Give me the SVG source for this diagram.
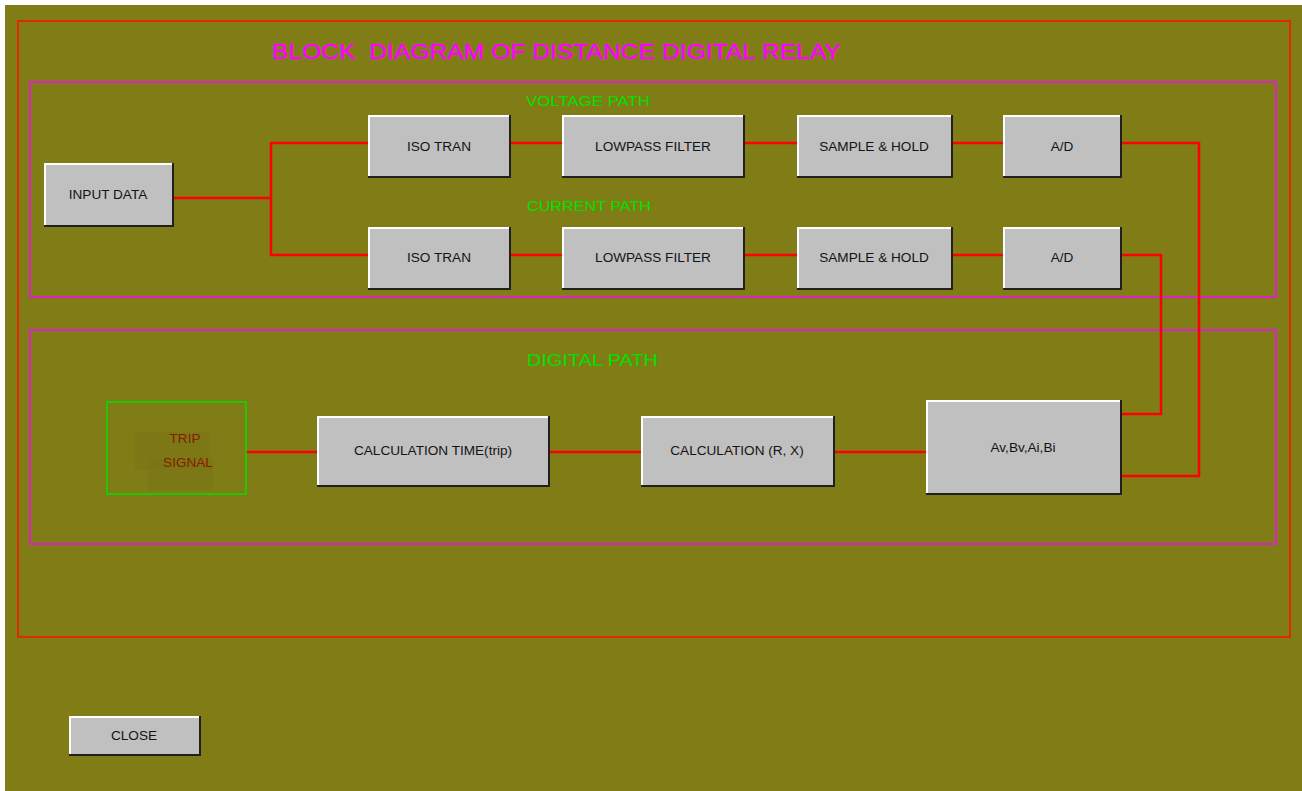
<svg xmlns="http://www.w3.org/2000/svg" width="1302" height="791" viewBox="0 0 1302 791">
<style>
.bg{fill:#807d16}
.frame{fill:none;stroke:#e02a00;stroke-width:2}
.panel{fill:none;stroke:#e020c8;stroke-width:2}
.btn{fill:#c0c0c0}
.hi{fill:none;stroke:#ffffff;stroke-width:2}
.sh{fill:none;stroke:#202020;stroke-width:2}
.lbl{font-family:"Liberation Sans",Arial,sans-serif;font-size:13.6px;fill:#141414;text-anchor:middle}
.green{font-family:"Liberation Sans",Arial,sans-serif;fill:#00e000}
.wire{fill:none;stroke:#ff0000;stroke-width:2.5}
</style>
<rect x="0" y="0" width="1302" height="791" fill="#ffffff"/>
<rect class="bg" x="5" y="5" width="1297" height="786"/>
<rect class="frame" x="18" y="21" width="1272" height="616"/>
<rect class="panel" x="30" y="82" width="1246" height="215"/>
<rect class="panel" x="30" y="330" width="1246" height="214"/>
<text x="272" y="59" font-family="Liberation Sans,Arial,sans-serif" font-size="22" fill="#ff00ff" stroke="#ff00ff" stroke-width="0.4" textLength="569" lengthAdjust="spacingAndGlyphs" xml:space="preserve">BLOCK  DIAGRAM OF DISTANCE DIGITAL RELAY</text>
<text class="green" x="526" y="106" font-size="15" textLength="124" lengthAdjust="spacingAndGlyphs">VOLTAGE PATH</text>
<text class="green" x="527" y="211" font-size="15" textLength="124" lengthAdjust="spacingAndGlyphs">CURRENT PATH</text>
<text class="green" x="527" y="366" font-size="17" textLength="131" lengthAdjust="spacingAndGlyphs">DIGITAL PATH</text>
<g id="connectors">
<polyline class="wire" points="173,198 271,198"/>
<polyline class="wire" points="368,143 271,143 271,255 368,255"/>
<line class="wire" x1="510" y1="143" x2="562" y2="143"/>
<line class="wire" x1="744" y1="143" x2="797" y2="143"/>
<line class="wire" x1="952" y1="143" x2="1003" y2="143"/>
<line class="wire" x1="510" y1="255" x2="562" y2="255"/>
<line class="wire" x1="744" y1="255" x2="797" y2="255"/>
<line class="wire" x1="952" y1="255" x2="1003" y2="255"/>
<polyline class="wire" points="1121,143 1199,143 1199,476 1121,476"/>
<polyline class="wire" points="1121,255 1161,255 1161,414 1121,414"/>
<line class="wire" x1="834" y1="452" x2="926" y2="452"/>
<line class="wire" x1="549" y1="452" x2="641" y2="452"/>
<line class="wire" x1="246" y1="452" x2="317" y2="452"/>
</g>
<g id="input">
<rect class="btn" x="44" y="163" width="129" height="63"/>
<polyline class="hi" points="45,225 45,164 172,164"/>
<polyline class="sh" points="44,226 173,226 173,163"/>
<text class="lbl" x="108" y="199">INPUT DATA</text>
</g>
<g id="iso1">
<rect class="btn" x="368" y="115" width="142" height="62"/>
<polyline class="hi" points="369,176 369,116 509,116"/>
<polyline class="sh" points="368,177 510,177 510,115"/>
<text class="lbl" x="439" y="151">ISO TRAN</text>
</g>
<g id="lp1">
<rect class="btn" x="562" y="115" width="182" height="62"/>
<polyline class="hi" points="563,176 563,116 743,116"/>
<polyline class="sh" points="562,177 744,177 744,115"/>
<text class="lbl" x="653" y="151">LOWPASS FILTER</text>
</g>
<g id="sh1">
<rect class="btn" x="797" y="115" width="155" height="62"/>
<polyline class="hi" points="798,176 798,116 951,116"/>
<polyline class="sh" points="797,177 952,177 952,115"/>
<text class="lbl" x="874" y="151">SAMPLE &amp; HOLD</text>
</g>
<g id="ad1">
<rect class="btn" x="1003" y="115" width="118" height="62"/>
<polyline class="hi" points="1004,176 1004,116 1120,116"/>
<polyline class="sh" points="1003,177 1121,177 1121,115"/>
<text class="lbl" x="1062" y="151">A/D</text>
</g>
<g id="iso2">
<rect class="btn" x="368" y="227" width="142" height="62"/>
<polyline class="hi" points="369,288 369,228 509,228"/>
<polyline class="sh" points="368,289 510,289 510,227"/>
<text class="lbl" x="439" y="262">ISO TRAN</text>
</g>
<g id="lp2">
<rect class="btn" x="562" y="227" width="182" height="62"/>
<polyline class="hi" points="563,288 563,228 743,228"/>
<polyline class="sh" points="562,289 744,289 744,227"/>
<text class="lbl" x="653" y="262">LOWPASS FILTER</text>
</g>
<g id="sh2">
<rect class="btn" x="797" y="227" width="155" height="62"/>
<polyline class="hi" points="798,288 798,228 951,228"/>
<polyline class="sh" points="797,289 952,289 952,227"/>
<text class="lbl" x="874" y="262">SAMPLE &amp; HOLD</text>
</g>
<g id="ad2">
<rect class="btn" x="1003" y="227" width="118" height="62"/>
<polyline class="hi" points="1004,288 1004,228 1120,228"/>
<polyline class="sh" points="1003,289 1121,289 1121,227"/>
<text class="lbl" x="1062" y="262">A/D</text>
</g>
<g id="trip">
<rect x="135" y="432" width="75" height="38" fill="#7a7515" opacity="0.6"/>
<rect x="148" y="460" width="65" height="30" fill="#7a7515" opacity="0.6"/>
<rect x="107" y="402" width="139" height="92" fill="none" stroke="#00e000" stroke-width="1.5"/>
<text x="185" y="443" font-family="Liberation Sans,Arial,sans-serif" font-size="13.6" fill="#8a1a00" text-anchor="middle">TRIP</text>
<text x="188" y="467" font-family="Liberation Sans,Arial,sans-serif" font-size="13.6" fill="#8a1a00" text-anchor="middle">SIGNAL</text>
</g>
<g id="calctime">
<rect class="btn" x="317" y="416" width="232" height="70"/>
<polyline class="hi" points="318,485 318,417 548,417"/>
<polyline class="sh" points="317,486 549,486 549,416"/>
<text class="lbl" x="433" y="455">CALCULATION TIME(trip)</text>
</g>
<g id="calcrx">
<rect class="btn" x="641" y="416" width="193" height="70"/>
<polyline class="hi" points="642,485 642,417 833,417"/>
<polyline class="sh" points="641,486 834,486 834,416"/>
<text class="lbl" x="737" y="455">CALCULATION (R, X)</text>
</g>
<g id="coeffs">
<rect class="btn" x="926" y="400" width="195" height="94"/>
<polyline class="hi" points="927,493 927,401 1120,401"/>
<polyline class="sh" points="926,494 1121,494 1121,400"/>
<text class="lbl" x="1023" y="452">Av,Bv,Ai,Bi</text>
</g>
<g id="close">
<rect class="btn" x="69" y="716" width="131" height="39"/>
<polyline class="hi" points="70,754 70,717 199,717"/>
<polyline class="sh" points="69,755 200,755 200,716"/>
<text class="lbl" x="134" y="740">CLOSE</text>
</g>
</svg>
